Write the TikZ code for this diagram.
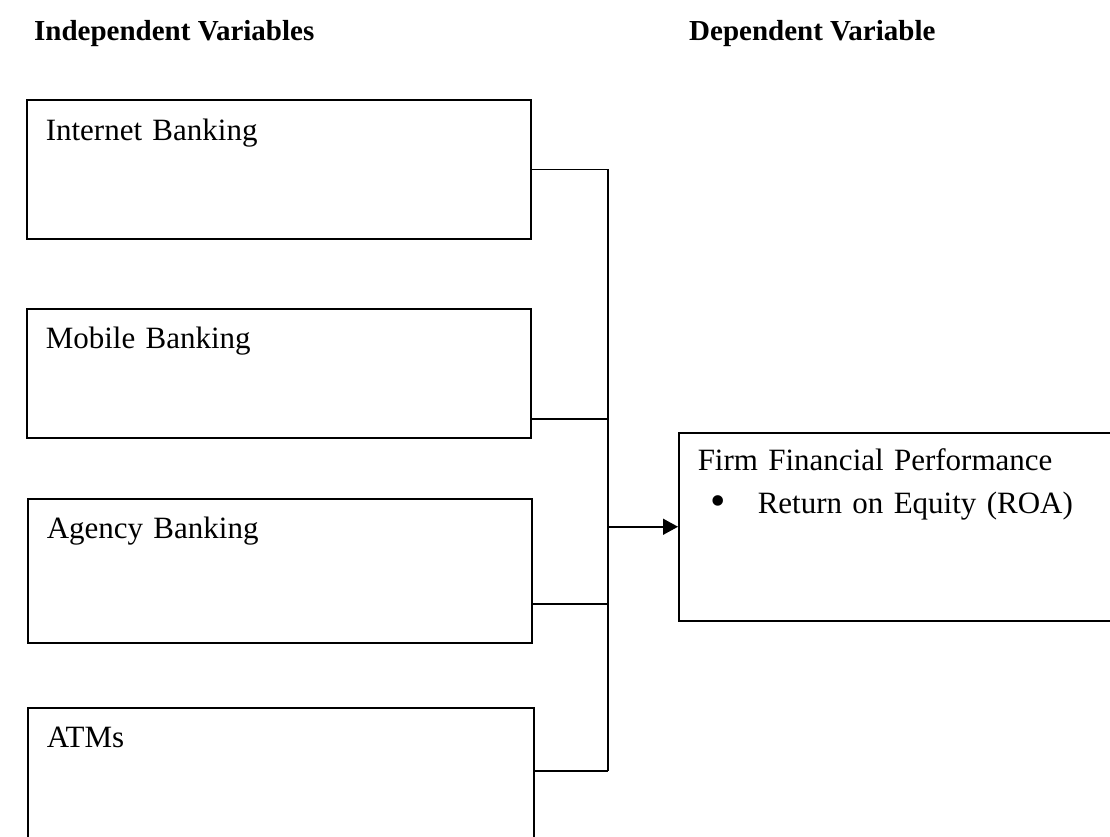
\documentclass[tikz,border=0pt]{standalone}
\usepackage{fontspec}
\setmainfont{Liberation Serif}
\usetikzlibrary{arrows.meta}
\begin{document}
\begin{tikzpicture}[x=1pt,y=-1pt,
	every node/.style={font=\fontsize{31}{37}\selectfont},
	varbox/.style={draw,line width=1.5pt,anchor=north west,inner xsep=19pt,
		inner ysep=0pt,text width=#1,align=left},
	heading/.style={font=\fontsize{29}{35}\selectfont\bfseries,anchor=base west,inner sep=0pt},
	link/.style={line width=1.5pt}]
\useasboundingbox (0,0) rectangle (1110,836);
% headings
\node[heading] (indep) at (34,40) {Independent Variables};
\node[heading] (dep) at (689,40) {Dependent Variable};
% independent variables
\node[varbox=466pt,text height=41pt,text depth=98pt] (inet) at (26,99) {Internet Banking};
\node[varbox=466pt,text height=40pt,text depth=89pt] (mobile) at (26,308) {Mobile Banking};
\node[varbox=466pt,text height=40pt,text depth=104pt] (agency) at (27,498) {Agency Banking};
\node[varbox=468pt,text height=40pt,text depth=98pt] (atm) at (27,707) {ATMs};
% dependent variable
\node[varbox=404pt,text height=38pt,text depth=150pt] (perf) at (678,432)
	{Firm Financial Performance\\[6pt]
	\hspace*{13pt}\makebox[47pt][l]{\raisebox{-2pt}{\fontsize{44}{44}\selectfont\textbullet}}Return on Equity (ROA)};
% connectors
\coordinate (bustop) at (608,172);
\coordinate (busbot) at (608,771);
\draw[link] (inet.east) -- (inet.east -| bustop);
\draw[link] ([yshift=-45.5pt]mobile.east) -- ([yshift=-45.5pt]mobile.east -| bustop);
\draw[link] ([yshift=-33pt]agency.east) -- ([yshift=-33pt]agency.east -| bustop);
\draw[link] (atm.east |- busbot) -- (busbot);
\draw[link] (inet.east -| bustop) -- (busbot);
\draw[link,-{Triangle[length=15pt,width=16pt]}] (bustop |- perf.west) -- (perf.west);
\end{tikzpicture}
\end{document}
